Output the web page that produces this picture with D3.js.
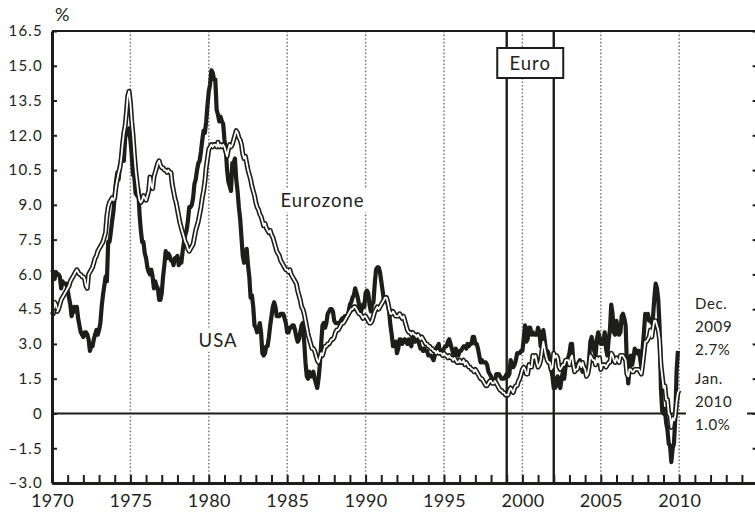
<!DOCTYPE html>
<html><head><meta charset="utf-8">
<script src="https://cdn.jsdelivr.net/npm/d3@7"></script>
<style>
body{margin:0;background:#fff}
svg{display:block}
text{font-family:Lato,"Open Sans",sans-serif;fill:#231f20}
</style></head>
<body><svg id="c" width="755" height="512"></svg>
<script>
// ---------- DATA ----------
const startYear = 1970; // monthly series, first value = Jan 1970
// USA consumer price inflation, % y/y, Jan 1970 - Dec 2009
const usaCPI = [
 6.2,6.1,5.8,6.1,6.0,6.0,5.9,5.4,5.7,5.6,5.6,5.6, //1970
 5.3,5.0,4.7,4.2,4.4,4.6,4.4,4.6,4.1,3.8,3.5,3.4, //1971
 3.3,3.5,3.5,3.4,3.2,2.7,2.9,2.9,3.2,3.4,3.6,3.4, //1972
 3.6,3.9,4.6,5.1,5.5,5.9,5.7,7.4,7.4,7.8,8.3,8.7, //1973
 9.4,10.0,10.4,10.1,10.7,10.9,11.5,10.9,11.9,12.1,12.2,12.3, //1974
 11.8,11.2,10.3,10.2,9.5,9.4,9.7,8.6,7.9,7.4,7.4,6.9, //1975
 6.7,6.3,6.1,6.0,6.2,5.9,5.4,5.7,5.5,5.4,4.9,4.9, //1976
 5.2,5.9,6.4,7.0,6.7,6.9,6.8,6.6,6.6,6.4,6.7,6.7, //1977
 6.8,6.4,6.6,6.5,7.0,7.4,7.7,7.9,8.3,8.9,8.9,9.0, //1978
 9.3,9.9,10.1,10.5,10.8,10.9,11.3,11.8,12.2,12.1,12.6,13.3, //1979
 13.9,14.2,14.8,14.7,14.4,14.4,13.1,12.9,12.6,12.8,12.6,12.5, //1980
 11.8,11.4,10.5,10.0,9.8,9.6,10.8,10.8,11.0,10.1,9.6,8.9, //1981
 8.4,7.6,6.8,6.5,6.7,7.1,6.4,5.9,5.0,5.1,4.6,3.8, //1982
 3.7,3.5,3.6,3.9,3.5,2.6,2.5,2.6,2.9,2.9,3.3,3.8, //1983
 4.2,4.6,4.8,4.6,4.2,4.2,4.2,4.3,4.3,4.3,4.1,3.9, //1984
 3.5,3.5,3.7,3.7,3.8,3.8,3.6,3.3,3.1,3.2,3.5,3.8, //1985
 3.9,3.1,2.2,1.6,1.5,1.8,1.6,1.6,1.8,1.5,1.3,1.1, //1986
 1.5,2.1,3.0,3.8,3.9,3.7,3.9,4.3,4.4,4.5,4.5,4.4, //1987
 4.0,3.9,3.9,3.9,3.9,4.0,4.1,4.0,4.2,4.2,4.2,4.4, //1988
 4.7,4.8,5.0,5.1,5.4,5.2,5.0,4.7,4.3,4.5,4.7,4.6, //1989
 5.2,5.3,5.2,4.7,4.4,4.7,4.8,5.6,6.2,6.3,6.3,6.1, //1990
 5.7,5.3,4.9,4.9,5.0,4.7,4.4,3.8,3.4,2.9,3.0,3.1, //1991
 2.6,2.8,3.2,3.2,3.0,3.1,3.2,3.1,3.0,3.2,3.0,2.9, //1992
 3.3,3.2,3.1,3.2,3.2,3.0,2.8,2.8,2.7,2.8,2.7,2.7, //1993
 2.5,2.5,2.5,2.4,2.3,2.5,2.8,2.9,3.0,2.6,2.7,2.7, //1994
 2.8,2.9,2.9,3.1,3.2,3.0,2.8,2.6,2.5,2.8,2.6,2.5, //1995
 2.7,2.7,2.8,2.9,2.9,2.8,3.0,2.9,3.0,3.0,3.3,3.3, //1996
 3.0,3.0,2.8,2.5,2.2,2.3,2.2,2.2,2.2,2.1,1.8,1.7, //1997
 1.6,1.4,1.4,1.4,1.7,1.7,1.7,1.6,1.5,1.5,1.5,1.6, //1998
 1.7,1.6,1.7,2.3,2.1,2.0,2.1,2.3,2.6,2.6,2.6,2.7, //1999
 2.7,3.2,3.8,3.1,3.2,3.7,3.7,3.4,3.5,3.4,3.4,3.4, //2000
 3.7,3.5,2.9,3.3,3.6,3.2,2.7,2.7,2.6,2.1,1.9,1.6, //2001
 1.1,1.1,1.5,1.6,1.2,1.1,1.5,1.8,1.5,2.0,2.2,2.4, //2002
 2.6,3.0,3.0,2.2,2.1,2.1,2.1,2.2,2.3,2.0,1.8,1.9, //2003
 1.9,1.7,1.7,2.3,3.1,3.3,3.0,2.7,2.5,3.2,3.5,3.3, //2004
 3.0,3.0,3.1,3.5,2.8,2.5,3.2,3.6,4.7,4.3,3.5,3.4, //2005
 4.0,3.6,3.4,3.5,4.2,4.3,4.1,3.8,2.1,1.3,2.0,2.5, //2006
 2.1,2.4,2.8,2.6,2.7,2.7,2.4,2.0,2.8,3.5,4.3,4.1, //2007
 4.3,4.0,4.0,3.9,4.2,5.0,5.6,5.4,4.9,3.7,1.1,0.1, //2008
 0.0,0.2,-0.4,-0.7,-1.3,-1.4,-2.1,-1.5,-1.3,-0.2,1.8,2.7 //2009
];
// Eurozone consumer price inflation, % y/y, Jan 1970 - Jan 2010
const euroCPI = [
 4.4,4.3,4.8,4.7,4.4,4.5,4.7,4.9,5.0,5.1,5.2,5.3, //1970
 5.4,5.5,5.7,5.8,5.9,6.0,6.1,6.2,6.1,6.0,6.0,5.9, //1971
 5.9,5.8,5.5,5.4,6.0,6.1,6.2,6.3,6.5,6.7,6.8,7.0, //1972
 7.1,7.2,7.3,7.4,7.6,7.8,8.5,8.9,9.1,9.2,9.3,9.2, //1973
 9.3,9.8,10.1,10.4,10.6,11.0,11.6,12.1,12.4,13.0,13.7,13.9, //1974
 13.4,12.6,12.0,11.2,10.5,10.0,9.5,9.2,9.1,9.2,9.4,9.3, //1975
 9.2,9.4,9.6,10.2,9.8,9.7,10.2,10.4,10.6,10.8,10.9,10.7, //1976
 10.6,10.6,10.5,10.5,10.4,10.5,10.4,10.4,9.9,9.6,9.3,9.1, //1977
 8.8,8.5,8.2,8.0,7.8,7.6,7.4,7.3,7.1,7.0,7.1,7.2, //1978
 7.3,7.6,7.9,8.1,8.3,8.6,8.9,9.3,9.6,10.0,10.6,11.0, //1979
 11.4,11.5,11.6,11.5,11.6,11.6,11.5,11.7,11.5,11.6,11.5,11.6, //1980
 11.5,11.3,11.1,11.4,11.6,11.5,11.6,11.8,12.0,12.2,12.1,11.9, //1981
 11.8,11.6,11.2,11.0,11.1,10.8,10.5,10.3,10.1,9.8,9.6,9.4, //1982
 9.1,8.9,8.8,8.6,8.5,8.3,8.1,8.2,8.0,7.9,7.8,7.9, //1983
 7.7,7.6,7.4,7.2,7.0,6.9,6.8,6.6,6.5,6.4,6.3,6.2, //1984
 6.2,6.1,6.2,6.0,5.9,5.8,5.7,5.6,5.3,5.1,4.9,4.6, //1985
 4.5,4.3,4.0,3.7,3.4,3.2,3.0,2.8,2.8,2.7,2.5,2.3, //1986
 2.2,2.4,2.6,2.5,2.7,2.9,2.9,3.0,3.0,3.1,3.2,3.2, //1987
 3.3,3.5,3.6,3.6,3.7,3.8,3.9,3.9,4.0,4.1,4.2,4.3, //1988
 4.4,4.5,4.5,4.6,4.6,4.5,4.4,4.3,4.3,4.2,4.1,4.2, //1989
 4.2,4.1,4.0,3.9,3.9,4.0,4.2,4.4,4.5,4.6,4.5,4.6, //1990
 4.7,4.8,4.9,5.0,5.0,4.8,4.5,4.3,4.3,4.4,4.3,4.2, //1991
 4.2,4.2,4.3,4.2,4.1,4.2,4.0,3.8,3.6,3.5,3.5,3.4, //1992
 3.5,3.4,3.4,3.3,3.4,3.3,3.2,3.3,3.2,3.1,3.0,3.0, //1993
 2.9,2.9,2.8,2.8,2.7,2.7,2.6,2.7,2.6,2.6,2.6,2.5, //1994
 2.6,2.5,2.5,2.4,2.5,2.4,2.4,2.3,2.4,2.3,2.2,2.2, //1995
 2.3,2.2,2.2,2.3,2.1,2.2,2.1,2.0,2.0,1.9,1.9,1.8, //1996
 1.9,1.8,1.7,1.6,1.5,1.5,1.4,1.3,1.2,1.2,1.3,1.4, //1997
 1.4,1.3,1.3,1.4,1.3,1.2,1.1,1.0,1.0,0.9,0.9,0.8, //1998
 0.8,0.8,1.0,1.1,1.0,0.9,1.1,1.2,1.2,1.4,1.5,1.7, //1999
 1.9,2.0,1.9,1.7,1.7,2.1,2.0,2.0,2.5,2.4,2.5,2.2, //2000
 2.0,2.1,2.3,2.7,3.1,2.8,2.5,2.3,2.2,2.2,1.9,2.0, //2001
 2.6,2.4,2.5,2.4,2.0,1.9,2.0,2.1,2.1,2.3,2.3,2.3, //2002
 2.1,2.4,2.5,2.1,1.8,1.9,1.9,2.1,2.2,2.0,2.2,2.0, //2003
 1.9,1.6,1.7,2.0,2.5,2.4,2.3,2.3,2.1,2.4,2.2,2.4, //2004
 1.9,2.1,2.1,2.1,2.0,2.1,2.2,2.2,2.6,2.5,2.3,2.2, //2005
 2.4,2.3,2.2,2.5,2.5,2.5,2.4,2.3,1.7,1.6,1.9,1.9, //2006
 1.8,1.8,1.9,1.9,1.9,1.9,1.8,1.7,2.1,2.6,3.1,3.1, //2007
 3.2,3.3,3.6,3.3,3.7,4.0,4.0,3.8,3.6,3.2,2.1,1.6, //2008
 1.1,1.2,0.6,0.6,0.0,-0.1,-0.6,-0.2,-0.3,-0.1,0.5,0.9, //2009
 1.0 //2010
];
const yTicks = [-3,-1.5,0,1.5,3,4.5,6,7.5,9,10.5,12,13.5,15,16.5];
const yTickLabels = ["\u20133.0","\u20131.5","0","1.5","3.0","4.5","6.0","7.5","9.0","10.5","12.0","13.5","15.0","16.5"];
const xLabelYears = [1970,1975,1980,1985,1990,1995,2000,2005,2010];
const xMinorYears = d3.range(1970, 2015);
const gridYears = [1975,1980,1985,1990,1995,2000,2005,2010];
const euroBandYears = [1999, 2002];
const seriesLabels = {usa:"USA", euro:"Eurozone", band:"Euro"};
const endNoteUSA = ["Dec.","2009","2.7%"];
const endNoteEuro = ["Jan.","2010","1.0%"];

// ---------- CHART ----------
const svg = d3.select('#c');
const x = d3.scaleLinear().domain([1970, 2015]).range([52, 757.6]);
const y = d3.scaleLinear().domain([-3, 16.5]).range([483, 31]);
const ink = '#1d1d1b';

// dotted year grid
svg.append('g').selectAll('line').data(gridYears).join('line')
  .attr('x1', d => x(d)).attr('x2', d => x(d))
  .attr('y1', y(16.5)).attr('y2', y(-3))
  .attr('stroke', '#7a7a7a').attr('stroke-width', 1.5)
  .attr('stroke-dasharray', '1.6,2');

// zero line
svg.append('line')
  .attr('x1', x(1970)).attr('x2', x(2015))
  .attr('y1', y(0)).attr('y2', y(0))
  .attr('stroke', ink).attr('stroke-width', 2);

// euro introduction lines
svg.append('g').selectAll('line').data(euroBandYears).join('line')
  .attr('x1', d => x(d)).attr('x2', d => x(d))
  .attr('y1', y(16.5)).attr('y2', y(-3))
  .attr('stroke', ink).attr('stroke-width', 2.4);

// series
const toPts = arr => arr.map((v, i) => [startYear + i / 12, v]);
const line = d3.line().x(d => x(d[0])).y(d => y(d[1]));

svg.append('path').datum(toPts(usaCPI)).attr('d', line)
  .attr('fill', 'none').attr('stroke', ink).attr('stroke-width', 4.2)
  .attr('stroke-linejoin', 'round');

const euroPts = toPts(euroCPI);
svg.append('path').datum(euroPts).attr('d', line)
  .attr('fill', 'none').attr('stroke', ink).attr('stroke-width', 5)
  .attr('stroke-linejoin', 'round');
svg.append('path').datum(euroPts).attr('d', line)
  .attr('fill', 'none').attr('stroke', '#fff').attr('stroke-width', 1.8)
  .attr('stroke-linejoin', 'round');

// labels with white background
function label(txt, cx, cy, size) {
  const g = svg.append('g');
  const r = g.append('rect').attr('fill', '#fff');
  const t = g.append('text').attr('x', cx).attr('y', cy).attr('dy', '0.36em')
    .attr('text-anchor', 'middle').style('font-size', size + 'px')
    .style('letter-spacing', '1px').text(txt);
  const b = t.node().getBBox();
  r.attr('x', b.x - 3).attr('y', b.y - 1).attr('width', b.width + 6).attr('height', b.height + 2);
  return g;
}
label(seriesLabels.euro, 322.5, 200.5, 18.5);
label(seriesLabels.usa, 218, 340, 18.5);

// Euro box
const bandMid = x((euroBandYears[0] + euroBandYears[1]) / 2);
svg.append('rect').attr('x', bandMid - 33).attr('y', 48).attr('width', 66).attr('height', 30)
  .attr('fill', '#fff').attr('stroke', ink).attr('stroke-width', 2);
svg.append('text').attr('x', bandMid).attr('y', 63).attr('dy', '0.36em')
  .attr('text-anchor', 'middle').style('font-size', '18.5px').style('letter-spacing', '1px')
  .text(seriesLabels.band);

// end notes
svg.append('rect').attr('x', 686).attr('y', 290).attr('width', 61).attr('height', 150).attr('fill', '#fff');
const notes = svg.append('g');
endNoteUSA.forEach((s, i) => notes.append('text').attr('x', 695).attr('y', 303.5 + i * 23)
  .attr('dy', '0.36em').style('font-size', '15px').style('letter-spacing', '0.6px').text(s));
endNoteEuro.forEach((s, i) => notes.append('text').attr('x', 695).attr('y', 379 + i * 23)
  .attr('dy', '0.36em').style('font-size', '15px').style('letter-spacing', '0.6px').text(s));

// axes
const yAxis = svg.append('g').attr('transform', `translate(${x(1970)},0)`)
  .call(d3.axisLeft(y).tickValues(yTicks).tickSize(-5).tickSizeOuter(0).tickPadding(9)
    .tickFormat((d, i) => yTickLabels[i]));
yAxis.select('.domain').attr('stroke', ink).attr('stroke-width', 3);
yAxis.selectAll('.tick line').attr('stroke', ink).attr('stroke-width', 2);
yAxis.selectAll('.tick text').attr('fill', '#231f20')
  .style('font-family', 'Lato,"Open Sans",sans-serif').style('font-size', '15px').style('letter-spacing', '1.2px');

const rAxis = svg.append('g').attr('transform', `translate(${x(2015)},0)`)
  .call(d3.axisRight(y).tickValues(yTicks).tickSize(-5).tickSizeOuter(0).tickFormat(''));
rAxis.select('.domain').attr('stroke', ink).attr('stroke-width', 3);
rAxis.selectAll('.tick line').attr('stroke', ink).attr('stroke-width', 2);

const xAxis = svg.append('g').attr('transform', `translate(0,${y(-3)})`)
  .call(d3.axisBottom(x).tickValues(xMinorYears).tickSize(-8).tickSizeOuter(0).tickPadding(11)
    .tickFormat(d => xLabelYears.includes(d) ? String(d) : ''));
xAxis.select('.domain').attr('stroke', ink).attr('stroke-width', 3);
xAxis.selectAll('.tick line').attr('stroke', ink).attr('stroke-width', 2);
xAxis.selectAll('.tick text').attr('fill', '#231f20')
  .style('font-family', 'Lato,"Open Sans",sans-serif').style('font-size', '18px').style('letter-spacing', '0.3px');

// top frame
svg.append('line').attr('x1', x(1970)).attr('x2', x(2015)).attr('y1', y(16.5)).attr('y2', y(16.5))
  .attr('stroke', ink).attr('stroke-width', 2.2);

// unit
svg.append('text').attr('x', 55).attr('y', 21).style('font-size', '18px').text('%');
</script></body></html>
